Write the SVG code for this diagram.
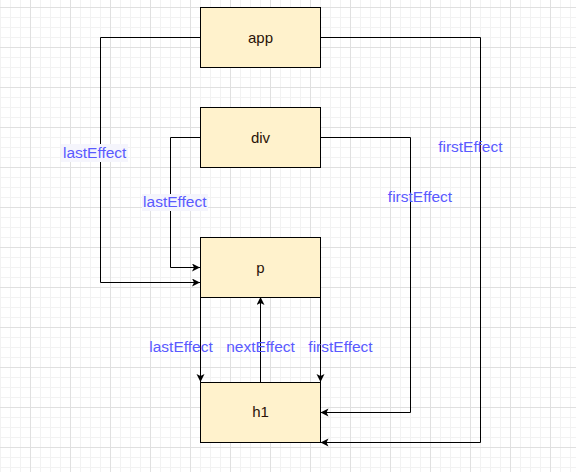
<svg xmlns="http://www.w3.org/2000/svg" width="576" height="472" viewBox="0 0 576 472">
  <defs>
    <pattern id="grid" patternUnits="userSpaceOnUse" x="30" y="7" width="40" height="40">
      <rect width="40" height="40" fill="#ffffff"/>
      <g fill="#f2f2f2">
        <rect x="10" y="0" width="1" height="40"/>
        <rect x="20" y="0" width="1" height="40"/>
        <rect x="30" y="0" width="1" height="40"/>
        <rect x="0" y="10" width="40" height="1"/>
        <rect x="0" y="20" width="40" height="1"/>
        <rect x="0" y="30" width="40" height="1"/>
      </g>
      <g fill="#e0e0e0">
        <rect x="0" y="0" width="1" height="40"/>
        <rect x="0" y="0" width="40" height="1"/>
      </g>
    </pattern>
    <marker id="arrow" markerUnits="userSpaceOnUse" markerWidth="10" markerHeight="10" refX="8" refY="4" orient="auto">
      <path d="M0,0 L8,4 L0,8 L2,4 Z" fill="#000"/>
    </marker>
  </defs>
  <style>
    .node rect { fill: #fff2cc; stroke: #000; stroke-width: 1; }
    .node text { font-family: "Liberation Sans", Arial, Helvetica, sans-serif; font-size: 15px; fill: #2a1208; text-anchor: middle; }
    .edge { fill: none; stroke: #000; stroke-width: 1; marker-end: url(#arrow); }
    .lbl { font-family: "Liberation Sans", Arial, Helvetica, sans-serif; font-size: 15.5px; fill: #5a5aff; text-anchor: middle; }
    .lblbg { fill: #f5f5fc; }
  </style>
  <rect width="576" height="472" fill="url(#grid)"/>

  <g id="connectors">
    <path class="edge" d="M200,37.5 H100.5 V282.5 H200"/>
    <path class="edge" d="M200,137.5 H170.5 V267.5 H200"/>
    <path class="edge" d="M200.5,297 V382"/>
    <path class="edge" d="M320.5,297 V382"/>
    <path class="edge" d="M260.5,382 V297"/>
    <path class="edge" d="M320,137.5 H410.5 V412.5 H320.5"/>
    <path class="edge" d="M320,37.5 H480.5 V442.5 H320.5"/>
  </g>

  <g id="labels">
    <rect class="lblbg" x="61" y="144" width="67" height="18"/>
    <text class="lbl" x="94.7" y="158">lastEffect</text>
    <rect class="lblbg" x="142" y="194" width="66" height="17"/>
    <text class="lbl" x="174.8" y="207">lastEffect</text>
    <text class="lbl" x="470.3" y="152">firstEffect</text>
    <text class="lbl" x="420" y="201.7">firstEffect</text>
    <text class="lbl" x="181" y="351.7">lastEffect</text>
    <text class="lbl" x="260.5" y="351.7">nextEffect</text>
    <text class="lbl" x="340.5" y="351.7">firstEffect</text>
  </g>

  <g id="app" class="node">
    <rect x="200.5" y="7.5" width="120" height="60"/>
    <text x="260.5" y="42.5">app</text>
  </g>
  <g id="div" class="node">
    <rect x="200.5" y="107.5" width="120" height="60"/>
    <text x="260.5" y="142.5">div</text>
  </g>
  <g id="p" class="node">
    <rect x="200.5" y="237.5" width="120" height="60"/>
    <text x="260.5" y="272.5">p</text>
  </g>
  <g id="h1" class="node">
    <rect x="200.5" y="382.5" width="120" height="60"/>
    <text x="260.5" y="417">h1</text>
  </g>
</svg>
